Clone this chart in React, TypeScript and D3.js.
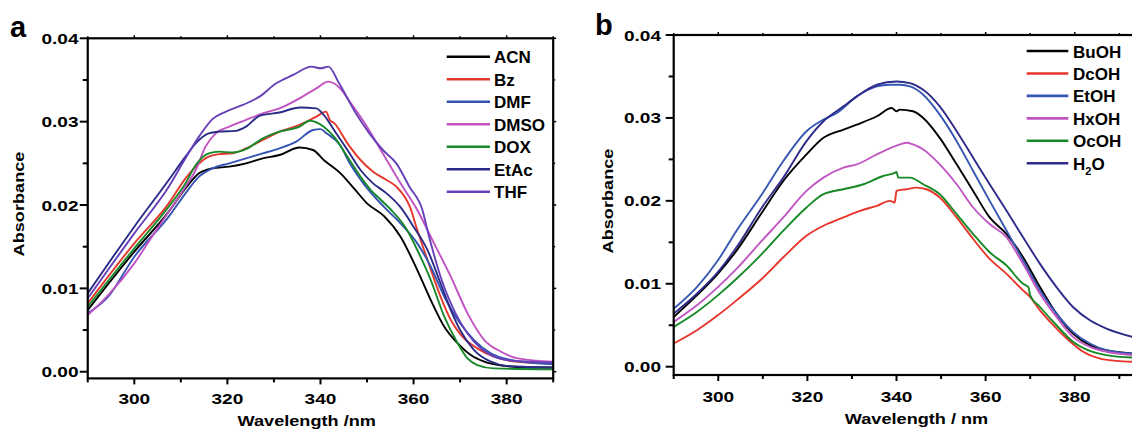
import React from 'react';
import * as d3 from 'd3';

type Pt = [number, number];

// ---------- tick values ----------
const xMajorTicks = [300, 320, 340, 360, 380];
const xMinorTicks = [290, 310, 330, 350, 370, 390];
const yMajorTicks = [0, 0.01, 0.02, 0.03, 0.04];
const yMinorTicks = [0.005, 0.015, 0.025, 0.035];

// ---------- panel a: solvents ----------
const ACN: Pt[] = [
  [290, 0.0074], [300, 0.0144], [307.4, 0.0192], [311, 0.022], [313.9, 0.0238], [316.8, 0.0244],
  [320.4, 0.0246], [324, 0.025], [327.6, 0.0256], [331.2, 0.026], [335.5, 0.0269], [338.4, 0.0266],
  [340.7, 0.0254], [344.3, 0.0238], [347.2, 0.022], [350, 0.0202], [353.6, 0.0187], [357.2, 0.0162],
  [360.8, 0.0122], [363.7, 0.0086], [366.6, 0.0054], [369.5, 0.0034], [372.3, 0.002], [375.2, 0.0012],
  [379.5, 0.0007], [385, 0.0005], [390, 0.0005],
];
const Bz: Pt[] = [
  [290, 0.0082], [300, 0.0154], [307.4, 0.0202], [311, 0.0232], [313.2, 0.0246], [315.3, 0.0256],
  [318.2, 0.0261], [321.1, 0.0262], [324, 0.0268], [327.6, 0.0278], [331.2, 0.0288], [335.5, 0.0296],
  [339.1, 0.0306], [341.2, 0.0312], [342, 0.0302], [343, 0.0298], [345.8, 0.0274], [348.6, 0.0254],
  [351.3, 0.024], [354.2, 0.023], [356.3, 0.0222], [359.2, 0.0198], [360.8, 0.017], [363, 0.0134],
  [365.8, 0.009], [368, 0.0062], [370.2, 0.0044], [373.7, 0.0028], [377.3, 0.0018], [382.4, 0.0012],
  [390, 0.001],
];
const DMF: Pt[] = [
  [290, 0.007], [294.4, 0.009], [300, 0.0138], [307.4, 0.0186], [311, 0.0214], [313.9, 0.0234],
  [316.8, 0.0244], [320.4, 0.025], [324, 0.0256], [327.6, 0.0262], [331.2, 0.0268], [334.8, 0.0276],
  [338.4, 0.029], [340, 0.0291], [341.3, 0.0286], [344.2, 0.0272], [346.3, 0.025], [349.2, 0.0226],
  [353.6, 0.0198], [357.2, 0.0178], [360.8, 0.0154], [363.7, 0.0126], [366.6, 0.009], [369.5, 0.0062],
  [373, 0.0038], [376.6, 0.0022], [381, 0.0014], [390, 0.0009],
];
const DMSO: Pt[] = [
  [290, 0.0068], [294.4, 0.0092], [300, 0.013], [303.8, 0.0162], [307.4, 0.0192], [311, 0.0222],
  [313.2, 0.0242], [315.3, 0.027], [317.5, 0.0286], [320.4, 0.0294], [324, 0.0302], [327.6, 0.031],
  [331.2, 0.0316], [335.5, 0.0328], [339.1, 0.034], [341.7, 0.0348], [344.2, 0.034], [346.3, 0.0324],
  [350, 0.0294], [353.6, 0.026], [357.2, 0.0226], [360.8, 0.0194], [364.4, 0.0154], [368, 0.0114],
  [371.6, 0.007], [375.2, 0.0038], [378.8, 0.0024], [382.4, 0.0016], [390, 0.0012],
];
const DOX: Pt[] = [
  [290, 0.0078], [300, 0.0148], [307.4, 0.0198], [311, 0.0226], [313.2, 0.0248], [316, 0.0262],
  [318.2, 0.0264], [321.1, 0.0263], [324, 0.0267], [327.6, 0.028], [331.2, 0.0288], [335.5, 0.0294],
  [337.7, 0.0301], [340.7, 0.0294], [342.9, 0.0282], [345.8, 0.0258], [348.6, 0.0234], [350.8, 0.0218],
  [353, 0.0206], [355.2, 0.0194], [358.6, 0.017], [360.8, 0.0146], [363.7, 0.011], [366.6, 0.0066],
  [369.5, 0.0034], [371.6, 0.0016], [373.7, 0.0008], [377.3, 0.0004], [390, 0.0003],
];
const EtAc: Pt[] = [
  [290, 0.0094], [300, 0.0174], [307.4, 0.023], [311, 0.0258], [313.2, 0.0274], [316, 0.0286],
  [318.2, 0.0288], [321.8, 0.0289], [324, 0.0294], [326.9, 0.0307], [331.2, 0.0311], [335.6, 0.0317],
  [339.1, 0.0316], [340.7, 0.0308], [342.9, 0.029], [345.8, 0.0266], [348.6, 0.0242], [351.3, 0.0226],
  [354.2, 0.0214], [357.1, 0.0198], [360, 0.0174], [363, 0.0146], [365.8, 0.0106], [368, 0.0074],
  [370, 0.005], [373, 0.0026], [376.6, 0.0012], [380, 0.0007], [390, 0.0005],
];
const THF: Pt[] = [
  [290, 0.0088], [300, 0.0166], [307.4, 0.0222], [311, 0.0256], [313.9, 0.0282], [316.8, 0.0303],
  [319.7, 0.0312], [323.3, 0.032], [326.9, 0.033], [330.5, 0.0346], [334.1, 0.0356], [338.1, 0.0366],
  [340, 0.0364], [341.7, 0.0366], [344, 0.0346], [347.6, 0.031], [350.5, 0.0286], [353.4, 0.0266],
  [356.3, 0.025], [359.1, 0.0222], [361.9, 0.0194], [363.2, 0.0165], [365.8, 0.0114], [368, 0.0082],
  [370.2, 0.0058], [373, 0.0036], [376.6, 0.002], [380, 0.0014], [385.3, 0.0012], [390, 0.0011],
];

// ---------- panel b: alcohols / water ----------
const BuOH: Pt[] = [
  [290, 0.006], [295.2, 0.0086], [299.9, 0.0112], [304.1, 0.014], [309.8, 0.0186], [314.6, 0.0224],
  [319.8, 0.0256], [323.6, 0.0276], [328.1, 0.0286], [331.1, 0.0292], [335.6, 0.0302], [338.9, 0.0312],
  [340, 0.0308], [340.7, 0.031], [343.7, 0.0308], [346, 0.03], [349.7, 0.0276], [353.5, 0.0244],
  [357.2, 0.0212], [360.9, 0.018], [364.7, 0.016], [368.4, 0.0132], [372.2, 0.0096], [375.9, 0.0064],
  [379.6, 0.004], [383.4, 0.0026], [387.1, 0.002], [393, 0.0016],
];
const DcOH: Pt[] = [
  [290, 0.0028], [295.2, 0.0044], [299.9, 0.0062], [304.1, 0.008], [309.8, 0.0106], [314.6, 0.0132],
  [319.8, 0.0158], [323.6, 0.017], [328.1, 0.018], [331.8, 0.0188], [335.6, 0.0194], [338.5, 0.02],
  [339.6, 0.0198], [340, 0.0212], [342.2, 0.0214], [344.5, 0.0216], [346.7, 0.0214], [349.7, 0.0204],
  [353.5, 0.018], [357.2, 0.0154], [360.9, 0.013], [364.7, 0.0112], [368.4, 0.0092], [370, 0.0084],
  [372.2, 0.0068], [374.5, 0.0054], [378.2, 0.0034], [381.9, 0.0018], [385.5, 0.001], [389.4, 0.0007],
  [393, 0.0006],
];
const EtOH: Pt[] = [
  [290, 0.007], [295.2, 0.0096], [299.9, 0.0128], [304.1, 0.0164], [309.8, 0.0208], [314.6, 0.0248],
  [319.8, 0.0284], [323.6, 0.0298], [326.6, 0.0306], [331.1, 0.0326], [335.6, 0.0338], [338.5, 0.034],
  [340.8, 0.034], [343, 0.0338], [346, 0.0328], [349.7, 0.0304], [353.5, 0.0272], [357.2, 0.0236],
  [360.9, 0.02], [364.7, 0.0164], [368.4, 0.0128], [372.2, 0.0092], [375.9, 0.0064], [379.6, 0.0042],
  [383.4, 0.0028], [387.1, 0.002], [393, 0.0016],
];
const HxOH: Pt[] = [
  [290, 0.0054], [295.2, 0.0074], [299.9, 0.0096], [304.1, 0.0118], [309.8, 0.0152], [314.6, 0.018],
  [319.8, 0.0212], [323.6, 0.0228], [328.1, 0.024], [331.1, 0.0244], [335.6, 0.0256], [340.8, 0.0268],
  [342.2, 0.027], [343.7, 0.0268], [346, 0.0262], [349.7, 0.0244], [353.5, 0.022], [357.2, 0.0192],
  [360.9, 0.0172], [364.7, 0.0156], [368.4, 0.0124], [372.2, 0.0088], [375.9, 0.006], [379.6, 0.0036],
  [383.4, 0.0024], [387.1, 0.0018], [393, 0.0014],
];
const OcOH: Pt[] = [
  [290, 0.0048], [295.2, 0.0066], [299.9, 0.0086], [304.1, 0.0106], [309.8, 0.0136], [314.6, 0.0164],
  [319.8, 0.0192], [323.6, 0.0208], [328.1, 0.0214], [332.6, 0.022], [337, 0.023], [339.7, 0.0234],
  [340, 0.0235], [340.4, 0.0228], [343, 0.0228], [346, 0.022], [349.7, 0.0208], [353.5, 0.0184],
  [357.2, 0.016], [360.9, 0.0138], [364.7, 0.0122], [368.4, 0.01], [369.6, 0.0096], [370, 0.0086],
  [372.2, 0.0072], [375.9, 0.005], [379.6, 0.003], [383.4, 0.0019], [387.1, 0.0014], [393, 0.0011],
];
const H2O: Pt[] = [
  [290, 0.0064], [295.2, 0.0088], [299.9, 0.0114], [304.1, 0.0144], [309.8, 0.0192], [314.6, 0.0228],
  [319.8, 0.0272], [323.6, 0.0296], [328.1, 0.0314], [331.1, 0.0326], [335.6, 0.034], [340, 0.0344],
  [343, 0.0342], [346, 0.0334], [349.7, 0.0314], [353.5, 0.0284], [357.2, 0.0252], [360.9, 0.022],
  [364.7, 0.0188], [368.4, 0.0156], [372.2, 0.0124], [375.9, 0.0096], [379.6, 0.0072], [383.4, 0.0056],
  [387.1, 0.0046], [393, 0.0036],
];

const seriesA = [
  { name: 'ACN', data: ACN, color: '#000000' },
  { name: 'Bz', data: Bz, color: '#e5382d' },
  { name: 'DMF', data: DMF, color: '#3553b3' },
  { name: 'DMSO', data: DMSO, color: '#c152c2' },
  { name: 'DOX', data: DOX, color: '#17892a' },
  { name: 'EtAc', data: EtAc, color: '#2b2c88' },
  { name: 'THF', data: THF, color: '#6640b8' },
];
const seriesB = [
  { name: 'BuOH', data: BuOH, color: '#000000' },
  { name: 'DcOH', data: DcOH, color: '#e8352b' },
  { name: 'EtOH', data: EtOH, color: '#3657b2' },
  { name: 'HxOH', data: HxOH, color: '#c057c2' },
  { name: 'OcOH', data: OcOH, color: '#168a26' },
  { name: 'H2O', data: H2O, color: '#2e2b8a' },
];

const FONT = '"Liberation Sans", Arial, Helvetica, sans-serif';
const TICK_SX = 1.27;
const TITLE_SX = 1.21;

const panels = [
  {
    id: 'a', letter: 'a', letterX: 10, letterY: 37,
    xDomain: [290, 390], xRange: [87.75, 553.2],
    yDomain: [-0.0008, 0.04], yRange: [378.4, 38.3],
    yLabelRight: 78.5, xLabelBase: 404,
    xTitle: 'Wavelength /nm', xTitleX: 306.7, xTitleY: 426,
    yTitleX: 24, yTitleY: 204,
    legX0: 446.7, legX1: 490, legTextX: 494, legY0: 56.7, legDy: 22.5,
    series: seriesA,
  },
  {
    id: 'b', letter: 'b', letterX: 595, letterY: 35,
    xDomain: [290, 395], xRange: [673.7, 1141.6],
    yDomain: [-0.001, 0.04], yRange: [375, 35],
    yLabelRight: 661, xLabelBase: 401.7,
    xTitle: 'Wavelength / nm', xTitleX: 916.5, xTitleY: 424,
    yTitleX: 612.7, yTitleY: 201,
    legX0: 1026.7, legX1: 1068.3, legTextX: 1073, legY0: 51, legDy: 22.45,
    series: seriesB,
  },
];

function Panel({ p }: { p: any }) {
  const x = d3.scaleLinear().domain(p.xDomain).range(p.xRange);
  const y = d3.scaleLinear().domain(p.yDomain).range(p.yRange);
  const [xl, xr] = p.xRange;
  const [yb, yt] = p.yRange;
  const line = d3
    .line<Pt>()
    .x((d) => x(d[0]))
    .y((d) => y(d[1]))
    .curve(d3.curveMonotoneX);
  const fmtY = d3.format('.2f');
  const axisW = 2.2;
  return (
    <g>
      <defs>
        <clipPath id={`clip-${p.id}`}>
          <rect x={xl} y={yt} width={xr - xl} height={yb - yt} />
        </clipPath>
      </defs>
      {/* curves */}
      <g clipPath={`url(#clip-${p.id})`}>
        {p.series.map((s: any) => (
          <path
            key={s.name}
            d={line(s.data) || ''}
            fill="none"
            stroke={s.color}
            strokeWidth={1.9}
            strokeLinejoin="round"
          />
        ))}
      </g>
      {/* frame */}
      <rect x={xl} y={yt} width={xr - xl} height={yb - yt} fill="none" stroke="#000" strokeWidth={axisW} />
      {/* y ticks left */}
      {yMajorTicks.map((v) => (
        <g key={'ym' + v}>
          <line x1={xl - 8} x2={xl} y1={y(v)} y2={y(v)} stroke="#000" strokeWidth={2} />
          <line x1={xr} x2={xr + 3} y1={y(v)} y2={y(v)} stroke="#000" strokeWidth={1.5} />
          <text
            transform={`translate(${p.yLabelRight},${y(v) + 5.5}) scale(${TICK_SX},1)`}
            textAnchor="end"
            fontFamily={FONT}
            fontWeight="bold"
            fontSize={15}
          >
            {fmtY(v)}
          </text>
        </g>
      ))}
      {yMinorTicks.map((v) => (
        <g key={'yn' + v}>
          <line x1={xl - 5} x2={xl} y1={y(v)} y2={y(v)} stroke="#000" strokeWidth={2} />
          <line x1={xr} x2={xr + 2} y1={y(v)} y2={y(v)} stroke="#000" strokeWidth={1.5} />
        </g>
      ))}
      {/* x ticks */}
      {xMajorTicks.map((v) => (
        <g key={'xm' + v}>
          <line x1={x(v)} x2={x(v)} y1={yb} y2={yb + 6} stroke="#000" strokeWidth={2} />
          <line x1={x(v)} x2={x(v)} y1={yt} y2={yt - 3} stroke="#000" strokeWidth={1.5} />
          <text
            transform={`translate(${x(v)},${p.xLabelBase}) scale(${TICK_SX},1)`}
            textAnchor="middle"
            fontFamily={FONT}
            fontWeight="bold"
            fontSize={15}
          >
            {v}
          </text>
        </g>
      ))}
      {xMinorTicks.map((v) => (
        <g key={'xn' + v}>
          <line x1={x(v)} x2={x(v)} y1={yb} y2={yb + 4} stroke="#000" strokeWidth={2} />
          <line x1={x(v)} x2={x(v)} y1={yt} y2={yt - 2} stroke="#000" strokeWidth={1.5} />
        </g>
      ))}
      {/* axis titles */}
      <text
        transform={`translate(${p.xTitleX},${p.xTitleY}) scale(${TITLE_SX},1)`}
        textAnchor="middle"
        fontFamily={FONT}
        fontWeight="bold"
        fontSize={15}
      >
        {p.xTitle}
      </text>
      <text
        transform={`translate(${p.yTitleX},${p.yTitleY}) rotate(-90) scale(${TITLE_SX},1)`}
        textAnchor="middle"
        fontFamily={FONT}
        fontWeight="bold"
        fontSize={15}
      >
        Absorbance
      </text>
      {/* panel letter */}
      <text x={p.letterX} y={p.letterY} fontFamily={FONT} fontWeight="bold" fontSize={29}>
        {p.letter}
      </text>
      {/* legend */}
      {p.series.map((s: any, i: number) => {
        const ly = p.legY0 + i * p.legDy;
        return (
          <g key={'lg' + s.name}>
            <line x1={p.legX0} x2={p.legX1} y1={ly} y2={ly} stroke={s.color} strokeWidth={2.6} />
            <text x={p.legTextX} y={ly + 6.5} fontFamily={FONT} fontWeight="bold" fontSize={17}>
              {s.name === 'H2O' ? (
                <>
                  H
                  <tspan fontSize={11} dy={5}>
                    2
                  </tspan>
                  <tspan dy={-5}>O</tspan>
                </>
              ) : (
                s.name
              )}
            </text>
          </g>
        );
      })}
    </g>
  );
}

export default function App() {
  return (
    <svg
      width={1132}
      height={432}
      viewBox="0 0 1132 432"
      style={{ position: 'absolute', left: 0, top: 0, background: '#fff' }}
    >
      <rect x={0} y={0} width={1132} height={432} fill="#fff" />
      {panels.map((p) => (
        <Panel key={p.id} p={p} />
      ))}
    </svg>
  );
}
